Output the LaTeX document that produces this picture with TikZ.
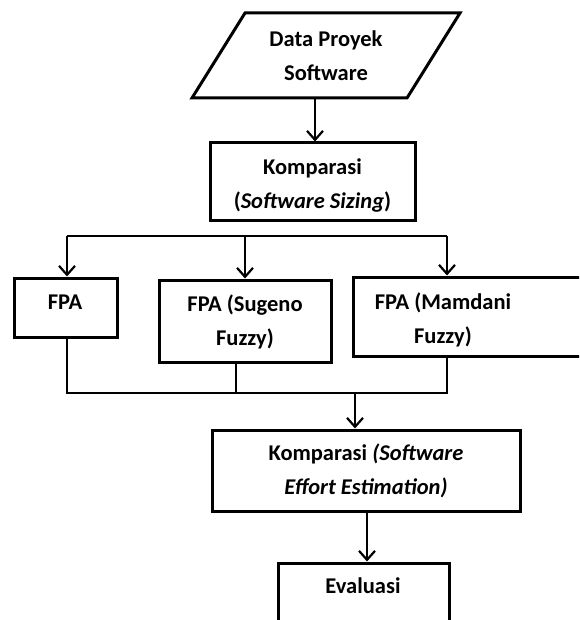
\documentclass[tikz,border=0pt]{standalone}
\usepackage{fontspec}
\setmainfont{Carlito}
\usetikzlibrary{arrows.meta}
\begin{document}
\begin{tikzpicture}[x=1pt,y=-1pt,
  box/.style={draw,line width=3pt,rectangle,inner sep=0pt},
  lbl/.style={font=\bfseries\fontsize{22.5}{34}\selectfont,align=center,inner sep=0pt},
  conn/.style={line width=2.2pt},
  arr/.style={line width=2.2pt,-{Straight Barb[length=9pt,width=16pt,line width=2.2pt]}}]
\useasboundingbox (0,0) rectangle (579,620);
\clip (0,0) rectangle (579,620);
% parallelogram
\coordinate (ptl) at (245,13);
\coordinate (ptr) at (460,13);
\coordinate (pbr) at (407,98);
\coordinate (pbl) at (192,98);
\draw[line width=3pt,line join=miter] (ptl) -- (ptr) -- (pbr) -- (pbl) -- cycle;
\node[lbl] (data) at (326,56) {Data Proyek\\Software};
\coordinate (dout) at (315,98);
% Komparasi 1
\node[box,minimum width=205pt,minimum height=77pt] (k1) at (312.5,181.5) {};
\node[lbl] (k1t) at (312.5,186) {Komparasi\\(\textit{Software Sizing})};
\draw[arr] (dout) -- (dout |- k1.north);
% branch line
\coordinate (bl) at (67,236);
\coordinate (bm) at (245,236);
\coordinate (br) at (447,236);
\draw[conn] (bl) -- (br);
% boxes
\node[box,minimum width=103pt,minimum height=59pt] (fpa) at (65.5,307.5) {};
\node[lbl] (fpat) at (65,302) {FPA};
\node[box,minimum width=172pt,minimum height=82pt] (sug) at (245,321) {};
\node[lbl] (sugt) at (245,322) {FPA (Sugeno\\Fuzzy)};
\node[box,minimum width=250pt,minimum height=79pt] (mam) at (478,316.5) {};
\node[lbl] (mamt) at (443,320) {FPA (Mamdani\\Fuzzy)};
\draw[arr] (bl) -- (bl |- fpa.north);
\draw[arr] (bm) -- (bm |- sug.north);
\draw[arr] (br) -- (br |- mam.north);
% join line
\coordinate (jl) at (67,393);
\coordinate (jm) at (236,393);
\coordinate (jr) at (447,393);
\coordinate (jo) at (355,393);
\draw[conn] (jl |- fpa.south) -- (jl) -- (jr) -- (jr |- mam.south);
\draw[conn] (jm |- sug.south) -- (jm);
% Komparasi 2
\node[box,minimum width=308pt,minimum height=81pt] (k2) at (366,470.5) {};
\node[lbl] (k2t) at (366,471) {Komparasi \textit{(Software}\\\textit{Effort Estimation)}};
\draw[arr] (jo) -- (jo |- k2.north);
% Evaluasi
\node[box,minimum width=171pt,minimum height=80pt] (ev) at (363.5,603) {};
\node[lbl] (evt) at (363,586) {Evaluasi};
\coordinate (kout) at (367,511);
\draw[arr] (kout |- k2.south) -- (kout |- ev.north);
\end{tikzpicture}
\end{document}
